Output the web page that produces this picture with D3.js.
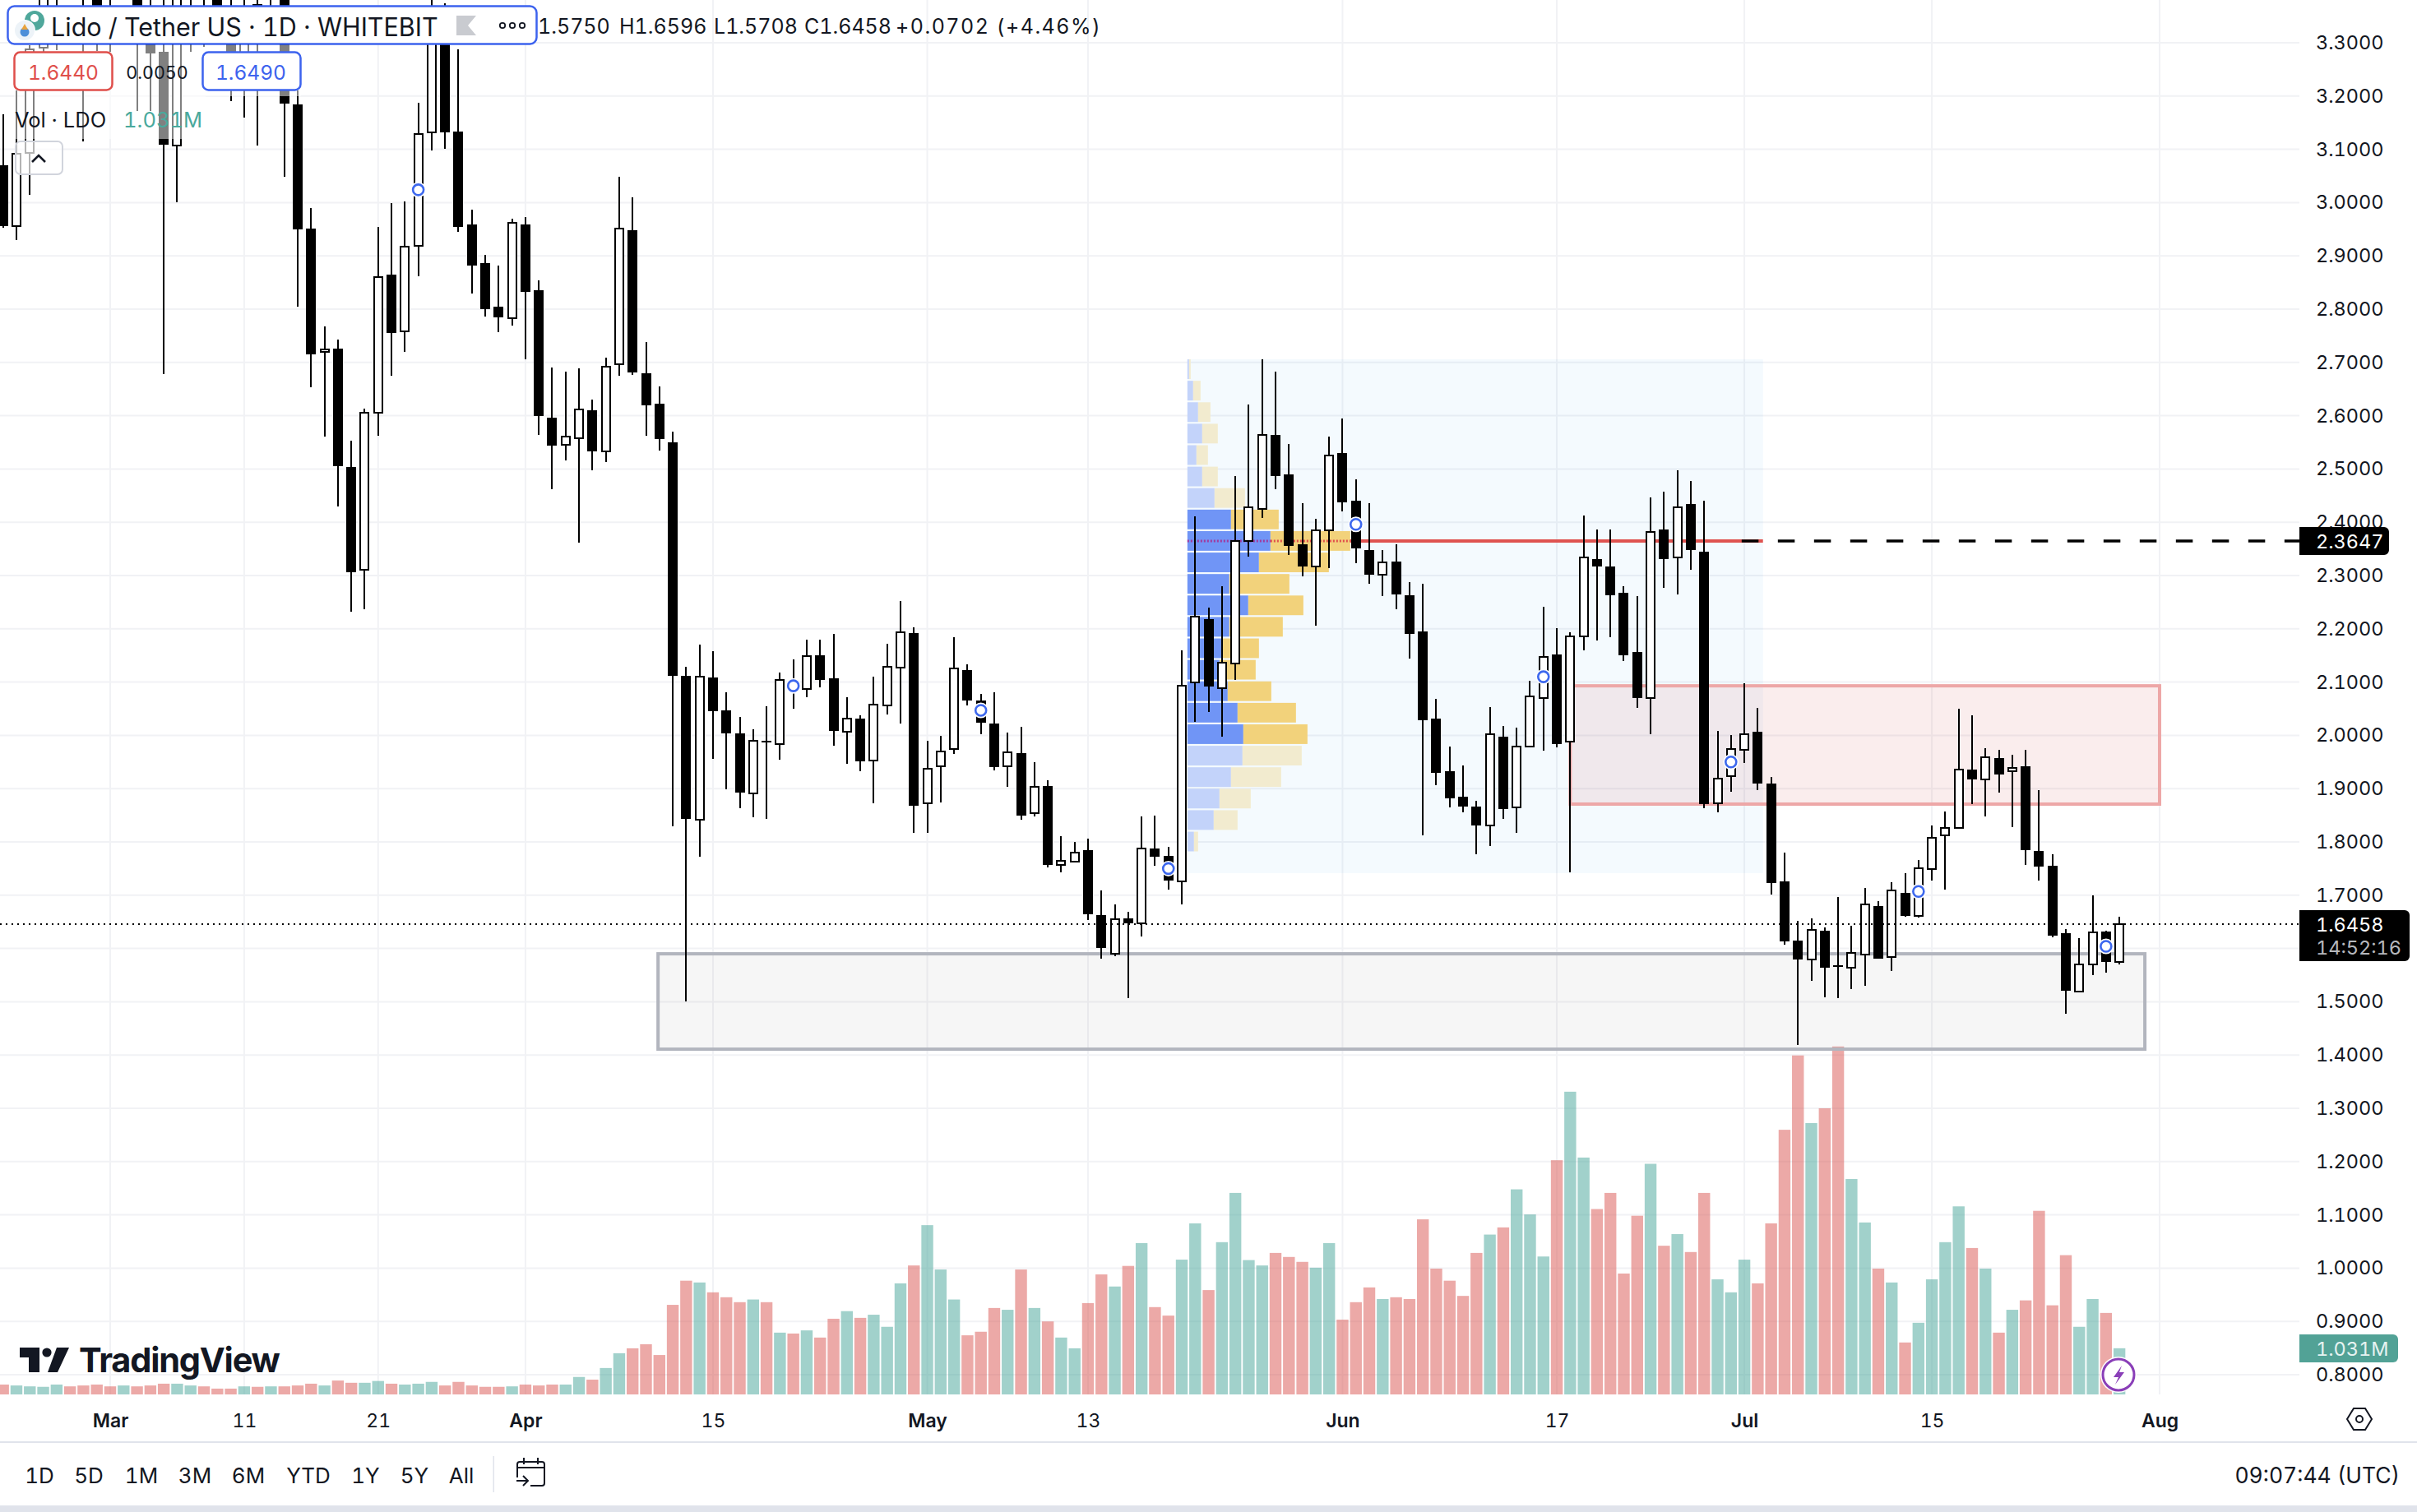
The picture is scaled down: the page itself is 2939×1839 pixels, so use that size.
<!DOCTYPE html>
<html><head><meta charset="utf-8">
<script src="https://cdnjs.cloudflare.com/ajax/libs/d3/7.8.5/d3.min.js"></script>
<style>html,body{margin:0;padding:0;background:#fff}svg{display:block}text{font-family:Inter,"Noto Sans",sans-serif;font-variant-numeric:tabular-nums;font-feature-settings:"tnum"}</style>
</head><body><svg id="c" width="2939" height="1839"></svg>
<script>
// ---- data ----
const firstDay=-8; // days relative to 1 March
const opens=[3.07,2.956,3.093,3.291,3.45,3.7,3.6,3.55,3.5,3.5,
3.6,3.326,3.283,3.107,3.42,3.5,3.55,3.326,3.241,3.373,
3.42,3.45,3.184,2.951,2.720,2.726,2.504,2.311,2.606,2.865,
2.758,2.919,3.132,3.319,3.133,2.959,2.886,2.805,2.783,2.959,
2.836,2.596,2.545,2.558,2.610,2.533,2.697,2.948,2.680,2.622,
2.550,2.112,1.842,2.109,2.047,2.004,1.891,1.990,1.984,2.104,
2.087,2.150,2.107,2.007,2.031,1.953,2.056,2.127,2.192,1.872,
1.942,1.974,2.122,2.065,2.022,1.942,1.967,1.854,1.905,1.757,
1.763,1.785,1.663,1.590,1.656,1.647,1.788,1.774,1.726,2.099,
2.218,2.089,2.135,2.365,2.425,2.564,2.490,2.359,2.317,2.385,
2.530,2.440,2.348,2.301,2.326,2.263,2.195,2.031,1.933,1.885,
1.866,1.831,1.998,1.865,1.979,2.070,2.152,1.988,2.186,2.331,
2.317,2.268,2.156,2.070,2.386,2.334,2.434,2.345,1.872,1.923,
1.973,2.007,1.910,1.726,1.615,1.579,1.633,1.568,1.564,1.589,
1.680,1.584,1.704,1.661,1.749,1.812,1.826,1.936,1.917,1.957,
1.933,1.942,1.783,1.755,1.629,1.519,1.570,1.632,1.575];
const closes=[2.956,3.092,3.288,3.45,3.6,3.6,3.42,3.37,3.42,3.6,
3.37,3.28,3.108,3.42,3.5,3.42,3.37,3.283,3.32,3.334,
3.5,3.186,2.950,2.715,2.724,2.505,2.306,2.606,2.860,2.755,
2.917,3.129,3.303,3.132,2.954,2.882,2.800,2.785,2.962,2.832,
2.599,2.544,2.561,2.612,2.533,2.692,2.951,2.681,2.619,2.556,
2.112,1.843,2.110,2.045,2.004,1.893,1.990,1.987,2.104,2.082,
2.149,2.104,2.008,2.031,1.951,2.058,2.129,2.193,1.868,1.937,
1.970,2.126,2.065,2.024,1.940,1.968,1.849,1.903,1.757,1.764,
1.780,1.664,1.601,1.655,1.647,1.788,1.772,1.727,2.093,2.223,
2.092,2.136,2.365,2.428,2.564,2.487,2.355,2.317,2.385,2.525,
2.437,2.351,2.301,2.325,2.264,2.190,2.028,1.930,1.882,1.866,
1.831,2.002,1.862,1.979,2.073,2.147,1.984,2.186,2.334,2.317,
2.263,2.150,2.070,2.382,2.331,2.428,2.348,1.871,1.919,1.974,
2.002,1.910,1.723,1.613,1.579,1.635,1.564,1.565,1.592,1.683,
1.581,1.709,1.661,1.751,1.808,1.826,1.936,1.917,1.959,1.927,
1.939,1.785,1.754,1.624,1.521,1.570,1.630,1.575,1.6458];
const highs=[3.166,3.21,3.295,3.55,3.7,3.8,3.65,3.6,3.55,3.65,
3.65,3.45,3.42,3.5,3.55,3.55,3.6,3.45,3.45,3.42,
3.55,3.5,3.21,2.990,2.768,2.743,2.553,2.613,2.954,2.999,
3.002,3.187,3.42,3.374,3.288,2.987,2.902,2.882,2.970,2.973,
2.854,2.690,2.683,2.689,2.630,2.709,3.048,3.010,2.738,2.655,
2.570,2.129,2.170,2.158,2.081,2.035,2.011,2.055,2.118,2.143,
2.180,2.180,2.190,2.072,2.038,2.110,2.172,2.252,2.203,1.990,
1.999,2.184,2.133,2.078,2.081,2.005,2.016,1.950,1.916,1.811,
1.800,1.806,1.709,1.683,1.669,1.848,1.849,1.791,2.160,2.411,
2.240,2.280,2.487,2.621,2.706,2.683,2.547,2.436,2.406,2.561,
2.595,2.480,2.436,2.348,2.359,2.288,2.285,2.068,1.979,1.943,
1.877,2.053,2.018,2.015,2.102,2.241,2.201,2.194,2.413,2.386,
2.386,2.280,2.261,2.447,2.457,2.497,2.477,2.440,2.008,2.001,
2.098,2.052,1.922,1.780,1.652,1.657,1.640,1.697,1.643,1.714,
1.689,1.724,1.741,1.766,1.831,1.857,2.050,2.038,1.976,1.973,
1.964,1.973,1.897,1.777,1.636,1.619,1.700,1.633,1.6596];
const lows=[2.953,2.93,3.015,3.283,3.286,3.45,3.115,3.285,3.283,3.42,
3.172,3.172,2.678,3.0,3.283,3.292,3.32,3.19,3.16,3.107,
3.334,3.048,2.805,2.653,2.561,2.430,2.232,2.237,2.562,2.675,
2.720,2.862,3.098,3.101,2.945,2.829,2.786,2.757,2.769,2.706,
2.564,2.462,2.516,2.362,2.498,2.513,2.675,2.677,2.562,2.535,
1.829,1.500,1.772,1.956,1.899,1.863,1.846,1.843,1.954,2.050,
2.072,2.090,1.980,1.947,1.933,1.872,2.039,2.022,1.817,1.817,
1.874,1.965,2.056,2.002,1.934,1.903,1.842,1.848,1.752,1.743,
1.763,1.653,1.581,1.586,1.507,1.622,1.755,1.710,1.683,2.025,
2.044,1.997,2.104,2.336,2.408,2.462,2.339,2.298,2.206,2.314,
2.420,2.323,2.285,2.261,2.237,2.144,1.812,1.906,1.865,1.855,
1.777,1.792,1.843,1.817,1.977,1.971,1.977,1.743,2.160,2.178,
2.184,2.139,2.052,2.002,2.277,2.264,2.311,1.863,1.855,1.894,
1.948,1.897,1.701,1.607,1.419,1.539,1.508,1.507,1.524,1.530,
1.581,1.558,1.660,1.658,1.727,1.710,1.826,1.871,1.848,1.893,
1.828,1.757,1.727,1.621,1.477,1.518,1.550,1.555,1.5708];
const volumes=[.22,.20,.18,.17,.22,.18,.20,.22,.18,.20,
.18,.20,.24,.24,.20,.18,.13,.13,.18,.17,
.18,.18,.20,.24,.20,.31,.26,.26,.30,.24,
.22,.24,.28,.20,.28,.20,.17,.17,.18,.22,
.20,.22,.22,.39,.33,.59,.92,1.03,1.12,.88,
2.00,2.54,2.50,2.28,2.17,2.06,2.12,2.06,1.38,1.36,
1.43,1.27,1.69,1.86,1.71,1.78,1.51,2.48,2.88,3.78,
2.79,2.12,1.32,1.40,1.93,1.89,2.79,1.93,1.63,1.27,
1.03,2.04,2.68,2.41,2.87,3.38,1.95,1.76,3.01,3.82,
2.33,3.40,4.50,3.00,2.88,3.16,3.07,2.96,2.83,3.38,
1.67,2.06,2.39,2.13,2.17,2.13,3.91,2.81,2.54,2.20,
3.16,3.57,3.73,4.58,4.02,3.08,5.23,6.76,5.29,4.14,
4.50,2.70,3.99,5.15,3.32,3.58,3.18,4.50,2.57,2.28,
3.01,2.48,3.82,5.91,7.57,6.06,6.39,7.77,4.81,3.84,
2.81,2.50,1.16,1.60,2.57,3.40,4.20,3.27,2.81,1.38,
1.89,2.10,4.10,1.99,3.11,1.51,2.13,1.82,1.031];
const priceTicks=[3.3,3.2,3.1,3.0,2.9,2.8,2.7,2.6,2.5,2.4,2.3,2.2,2.1,2.0,1.9,1.8,1.7,1.6,1.5,1.4,1.3,1.2,1.1,1.0,0.9,0.8];
const dateTickDays=[0,10,20,31,45,61,73,92,108,122,136,153];
const dateTickLabels=["Mar","11","21","Apr","15","May","13","Jun","17","Jul","15","Aug"];
const monthLabels=["Mar","Apr","May","Jun","Jul","Aug"];
const markerDays=[23,51,65,79,93,107,121,135,149];
const markerPrices=[3.024,2.093,2.047,1.750,2.396,2.110,1.950,1.707,1.604];
const profileUp=[2,7,13,18,11,18,33,53,101,87,51,74,51,43,39,49,61,68,67,53,39,32,8];
const profileDown=[2,9,15,19,14,19,37,58,97,85,73,67,65,44,44,53,71,78,72,61,38,29,5];
const rangeLabels=["1D","5D","1M","3M","6M","YTD","1Y","5Y","All"];

// ---- scales ----
const svg=d3.select("#c");
const x=d3.scaleLinear().domain([0,153]).range([134,2626]);
const y=d3.scaleLinear().domain([3.3,0.8]).range([52,1672]);
const vol=d3.scaleLinear().domain([0,8]).range([1696,1260.3]);
const ink="#131722",gridC="#f1f2f5";
const days=opens.map((_,i)=>firstDay+i);

// backdrop grid
const axisRight=2796,paneBottom=1696;
svg.append("g").selectAll("line").data(priceTicks).join("line")
 .attr("x1",0).attr("x2",axisRight).attr("y1",d=>y(d)).attr("y2",d=>y(d)).attr("stroke",gridC).attr("stroke-width",2);
svg.append("g").selectAll("line").data(dateTickDays).join("line")
 .attr("x1",d=>x(d)).attr("x2",d=>x(d)).attr("y1",0).attr("y2",paneBottom).attr("stroke",gridC).attr("stroke-width",2);

// volume
svg.append("g").selectAll("rect").data(days).join("rect")
 .attr("x",(d)=>x(d)-7.2).attr("width",14.4)
 .attr("y",(d,i)=>vol(volumes[i])).attr("height",(d,i)=>paneBottom-vol(volumes[i]))
 .attr("fill",(d,i)=>closes[i]>=opens[i]?"#43a397":"#d9534f").attr("fill-opacity",.5);

// zones
function zone(d0,d1,pTop,pBot,stroke,fill){
 svg.append("rect").attr("x",x(d0)).attr("width",x(d1)-x(d0)).attr("y",y(pTop)).attr("height",y(pBot)-y(pTop))
  .attr("fill",fill).attr("stroke",stroke).attr("stroke-width",4);
}
// volume profile backdrop
svg.append("rect").attr("x",x(80.42)).attr("width",x(123.39)-x(80.42)).attr("y",y(2.7058)).attr("height",y(1.7415)-y(2.7058))
 .attr("fill","#2196f3").attr("fill-opacity",.05);
zone(109,153,2.093,1.871,"#eda7a7","rgba(205,60,60,.09)");
zone(40.9,151.9,1.590,1.411,"#b2b5be","rgba(128,128,128,.07)");

// profile rows
const bin=0.0403,vpW=d3.scaleLinear().domain([0,198]).range([0,198]);
const vp=svg.append("g");
profileUp.forEach((u,i)=>{
 const top=2.7058-bin*i, inVA=i>=7&&i<=17, yy=y(top), h=y(top-bin)-yy-2.2;
 vp.append("rect").attr("x",x(80.42)).attr("y",yy).attr("width",vpW(u)).attr("height",h).attr("fill",inVA?"#7095f6":"#c3d3fa");
 vp.append("rect").attr("x",x(80.42)+vpW(u)).attr("y",yy).attr("width",vpW(profileDown[i])).attr("height",h).attr("fill",inVA?"#f2d27b":"#f2ebcf");
});
// POC
const poc=2.3647;
const pocEnd=x(80.42)+vpW(profileUp[8]+profileDown[8]);
svg.append("line").attr("x1",x(80.42)).attr("x2",x(80.42)+vpW(profileUp[8])).attr("y1",y(poc)).attr("y2",y(poc)).attr("stroke","#a2399d").attr("stroke-width",3).attr("stroke-dasharray","2 2");
svg.append("line").attr("x1",x(80.42)+vpW(profileUp[8])).attr("x2",pocEnd).attr("y1",y(poc)).attr("y2",y(poc)).attr("stroke","#e0504c").attr("stroke-width",3).attr("stroke-dasharray","2 2");
svg.append("line").attr("x1",pocEnd).attr("x2",x(123.39)).attr("y1",y(poc)).attr("y2",y(poc)).attr("stroke","#df5350").attr("stroke-width",4);
svg.append("line").attr("x1",x(121.8)).attr("x2",axisRight).attr("y1",y(poc)).attr("y2",y(poc)).attr("stroke","#000").attr("stroke-width",3.5).attr("stroke-dasharray","20.5 23.5");

// candles
const cg=svg.append("g").attr("shape-rendering","crispEdges");
cg.selectAll("line").data(days).join("line")
 .attr("x1",d=>x(d)).attr("x2",d=>x(d)).attr("y1",(d,i)=>y(highs[i])).attr("y2",(d,i)=>y(lows[i]))
 .attr("stroke","#000").attr("stroke-width",2);
cg.selectAll("rect").data(days).join("rect")
 .each(function(d,i){
  const up=closes[i]>=opens[i],t=y(Math.max(opens[i],closes[i])),b=y(Math.min(opens[i],closes[i]));
  const s=d3.select(this);
  if(up) s.attr("x",x(d)-5).attr("width",10).attr("y",t).attr("height",Math.max(b-t,2)).attr("fill","#fff").attr("stroke","#000").attr("stroke-width",2);
  else s.attr("x",x(d)-6).attr("width",12).attr("y",t).attr("height",Math.max(b-t,2)).attr("fill","#000");
 });

// markers
const mk=svg.append("g");
mk.selectAll("circle.h").data(markerDays).join("circle").attr("class","h").attr("cx",d=>x(d)).attr("cy",(d,i)=>y(markerPrices[i])).attr("r",9.5).attr("fill","#fff");
mk.selectAll("circle.m").data(markerDays).join("circle").attr("class","m").attr("cx",d=>x(d)).attr("cy",(d,i)=>y(markerPrices[i])).attr("r",6.5).attr("fill","#fff").attr("stroke","#3d68ee").attr("stroke-width",2.6);

// last price dotted line
svg.append("line").attr("x1",0).attr("x2",axisRight).attr("y1",y(1.6458)).attr("y2",y(1.6458)).attr("stroke","#000").attr("stroke-width",2).attr("stroke-dasharray","2 5");

// axes
const py=svg.append("g").attr("transform",`translate(2816,0)`)
 .call(d3.axisRight(y).tickValues(priceTicks).tickFormat(d3.format(".4f")).tickSize(0).tickPadding(0));
py.select(".domain").remove();
py.selectAll("text").attr("fill",ink).attr("font-size",23.5).attr("font-family","Inter");
const px=svg.append("g").attr("transform",`translate(0,1720)`)
 .call(d3.axisBottom(x).tickValues(dateTickDays).tickFormat((d,i)=>dateTickLabels[i]).tickSize(0).tickPadding(0));
px.select(".domain").remove();
px.selectAll("text").attr("fill",ink).attr("font-size",23).attr("font-family","Inter")
 .attr("font-weight",(d,i)=>monthLabels.includes(dateTickLabels[i])?600:400);

function label(t,xx,yy,o={}){
 return svg.append("text").text(t).attr("x",xx).attr("y",yy).attr("dominant-baseline","central")
  .attr("font-size",o.size||24).attr("fill",o.fill||ink).attr("text-anchor",o.anchor||"start").attr("font-weight",o.weight||400);
}
// price boxes
svg.append("path").attr("d",`M2796 ${y(poc)-17}H2899a6 6 0 0 1 6 6V${y(poc)+11}a6 6 0 0 1-6 6H2796Z`).attr("fill","#000");
label("2.3647",2816,y(poc),{fill:"#fff",size:23.5});
svg.append("path").attr("d","M2796 1107H2924a6 6 0 0 1 6 6V1163a6 6 0 0 1-6 6H2796Z").attr("fill","#000");
label("1.6458",2816,1124,{fill:"#fff",size:23.5});
label("14:52:16",2816,1152,{fill:"#b6b8bd",size:23.5});
svg.append("path").attr("d","M2796 1623H2910a6 6 0 0 1 6 6V1651a6 6 0 0 1-6 6H2796Z").attr("fill","#52a296");
label("1.031M",2816,1640,{fill:"#e6f3f1",size:23.5});

// legend veils
svg.append("rect").attr("x",17).attr("y",55).attr("width",349).attr("height",62).attr("fill","#fff").attr("fill-opacity",.5);
svg.append("rect").attr("x",17).attr("y",117).attr("width",233).attr("height",52).attr("fill","#fff").attr("fill-opacity",.5);

// title box
svg.append("rect").attr("x",9.5).attr("y",7.5).attr("width",643).attr("height",46).attr("rx",8).attr("fill","#fff").attr("stroke","#3d63ee").attr("stroke-width",2.5);
const ic=svg.append("g");
ic.append("circle").attr("cx",42).attr("cy",25).attr("r",12).attr("fill","#4fa79b");
ic.append("circle").attr("cx",42).attr("cy",22).attr("r",5).attr("fill","#fff");
ic.append("circle").attr("cx",30).attr("cy",37).attr("r",13).attr("fill","#fff");
ic.append("circle").attr("cx",30).attr("cy",37).attr("r",12).attr("fill","#edf3f8");
ic.append("circle").attr("cx",30).attr("cy",39).attr("r",5.5).attr("fill","#4d8fd8");
ic.append("path").attr("d","M30 29l4 7h-8z").attr("fill","#e9a33c");
label("Lido / Tether US · 1D · WHITEBIT",62,32,{size:30.5});
svg.append("path").attr("d","M555 19H579L569 31L579 43H555Z").attr("fill","#c9cbd0");
[611,623,635].forEach(c=>svg.append("circle").attr("cx",c).attr("cy",31).attr("r",3.2).attr("fill","none").attr("stroke",ink).attr("stroke-width",1.8));
[["1.5750",654],["H1.6596",753],["L1.5708",868],["C1.6458",978]].forEach(([t,xx])=>label(t,xx,32,{size:25}));
label("+0.0702 (+4.46%)",1089,32,{size:25}).attr("letter-spacing",1.5);

// bid/ask
svg.append("rect").attr("x",17.5).attr("y",63.5).attr("width",119).attr("height",46).attr("rx",7).attr("fill","#fff").attr("stroke","#df4f4b").attr("stroke-width",2.5);
label("1.6440",77,88,{fill:"#df4f4b",anchor:"middle",size:24.5});
label("0.0050",191,88,{anchor:"middle",size:21.5});
svg.append("rect").attr("x",246.5).attr("y",63.5).attr("width",119).attr("height",46).attr("rx",7).attr("fill","#fff").attr("stroke","#3d63ee").attr("stroke-width",2.5);
label("1.6490",305,88,{fill:"#3d63ee",anchor:"middle",size:24.5});
label("Vol · LDO",18,145,{size:25.5});
label("1.031M",150,145,{fill:"#4aa99d",size:25.5});
svg.append("rect").attr("x",19).attr("y",172).attr("width",57).attr("height",40).attr("rx",6).attr("fill","#fff").attr("fill-opacity",.7).attr("stroke","#d1d4dc").attr("stroke-width",2);
svg.append("path").attr("d","M39 197l8-8l8 8").attr("fill","none").attr("stroke",ink).attr("stroke-width",2.6);

// watermark logo
const lg=svg.append("g").attr("fill",ink);
lg.append("path").attr("d","M24 1639H48V1669H35V1651H24Z");
lg.append("circle").attr("cx",57).attr("cy",1645).attr("r",5.6);
lg.append("path").attr("d","M69 1639H84L70 1669H58Z");
label("TradingView",96,1654,{size:41.5,weight:700}).attr("letter-spacing",-1.2);

// realtime bolt
svg.append("circle").attr("cx",2576).attr("cy",1672).attr("r",22).attr("fill","#fff");
svg.append("circle").attr("cx",2576).attr("cy",1672).attr("r",19).attr("fill","#fff").attr("stroke","#8a3fb8").attr("stroke-width",3);
svg.append("path").attr("d","M2580 1661L2570 1675H2576L2572 1684L2583 1669H2577Z").attr("fill","#8a3fb8");

// chrome
svg.append("rect").attr("x",0).attr("y",1753).attr("width",2939).attr("height",2).attr("fill","#e0e3eb");
svg.append("rect").attr("x",0).attr("y",1831).attr("width",2939).attr("height",8).attr("fill","#e0e3eb");
const rangeX=[48,108,172,237,302,375,444.5,504,561];
rangeLabels.forEach((t,i)=>label(t,rangeX[i],1794,{anchor:"middle",size:26}));
svg.append("rect").attr("x",599.5).attr("y",1771).attr("width",1.5).attr("height",44).attr("fill","#e0e3eb");
svg.append("path").attr("d","M629 1797V1781a3 3 0 0 1 3-3H659a3 3 0 0 1 3 3V1804a3 3 0 0 1-3 3H645M629 1785H662M637 1773V1781M654 1773V1781M628 1801H642M636 1795L642 1801L636 1807")
 .attr("fill","none").attr("stroke",ink).attr("stroke-width",2);
label("09:07:44 (UTC)",2918,1794,{anchor:"end",size:26.5});
// settings hexagon
svg.append("path").attr("d","M2862 1713H2876L2884 1726L2876 1739H2862L2854 1726Z").attr("fill","none").attr("stroke",ink).attr("stroke-width",2);
svg.append("circle").attr("cx",2869).attr("cy",1726).attr("r",4).attr("fill","none").attr("stroke",ink).attr("stroke-width",2);
</script></body></html>
